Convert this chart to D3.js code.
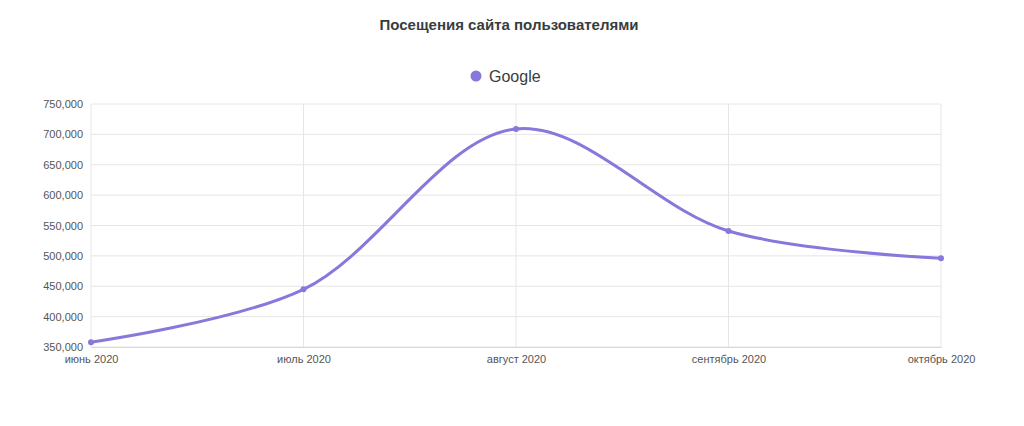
<!DOCTYPE html>
<meta charset="utf-8">
<style>
body { margin: 0; background: #fff; }
text { font-family: "Liberation Sans", Arial, sans-serif; }
</style>
<svg width="1024" height="426"></svg>
<script src="https://d3js.org/d3.v7.min.js"></script>
<script>
var months = ["июнь 2020", "июль 2020", "август 2020", "сентябрь 2020", "октябрь 2020"];
var visits = [358000, 445000, 709000, 541000, 496000];
var yTicks = [350000, 400000, 450000, 500000, 550000, 600000, 650000, 700000, 750000];
var seriesName = "Google";
var color = "#8878db";

var svg = d3.select("svg");
var x = d3.scalePoint().domain(months).range([91, 941]);
var y = d3.scaleLinear().domain([350000, 750000]).range([347, 104]);

// title
svg.append("text").attr("x", 509).attr("y", 30).attr("text-anchor", "middle")
  .attr("font-family", "Inter, sans-serif").attr("font-size", 15).attr("font-weight", "bold")
  .attr("fill", "#373d3f").text("Посещения сайта пользователями");

// legend
svg.append("circle").attr("cx", 476).attr("cy", 76).attr("r", 5.5).attr("fill", color);
svg.append("text").attr("x", 489).attr("y", 81.5).attr("font-size", 16).attr("fill", "#373d3f").text(seriesName);

// grid
svg.append("g").selectAll("line").data(yTicks).enter().append("line")
  .attr("x1", 91).attr("x2", 941).attr("y1", d => y(d)).attr("y2", d => y(d))
  .attr("stroke", "#e6e6e6");
svg.append("g").selectAll("line").data(months).enter().append("line")
  .attr("x1", d => x(d)).attr("x2", d => x(d)).attr("y1", 104).attr("y2", 347)
  .attr("stroke", "#e6e6e6");

// axes
var ya = svg.append("g").attr("transform", "translate(91,0)")
  .call(d3.axisLeft(y).tickValues(yTicks).tickSize(0).tickPadding(8));
ya.select(".domain").remove();
ya.selectAll("text").attr("fill", "#555").attr("font-size", 11);

var xa = svg.append("g").attr("transform", "translate(0,347)")
  .call(d3.axisBottom(x).tickSize(0).tickPadding(8));
xa.select(".domain").attr("stroke", "#d8d8d8");
xa.selectAll("text").attr("fill", "#555").attr("font-size", 11);

// line
var line = d3.line().x((d, i) => x(months[i])).y(d => y(d)).curve(d3.curveCatmullRom.alpha(0.5));
svg.append("path").datum(visits).attr("d", line).attr("fill", "none")
  .attr("stroke", color).attr("stroke-width", 3);
svg.append("g").selectAll("circle").data(visits).enter().append("circle")
  .attr("cx", (d, i) => x(months[i])).attr("cy", d => y(d)).attr("r", 3).attr("fill", color);
</script>
